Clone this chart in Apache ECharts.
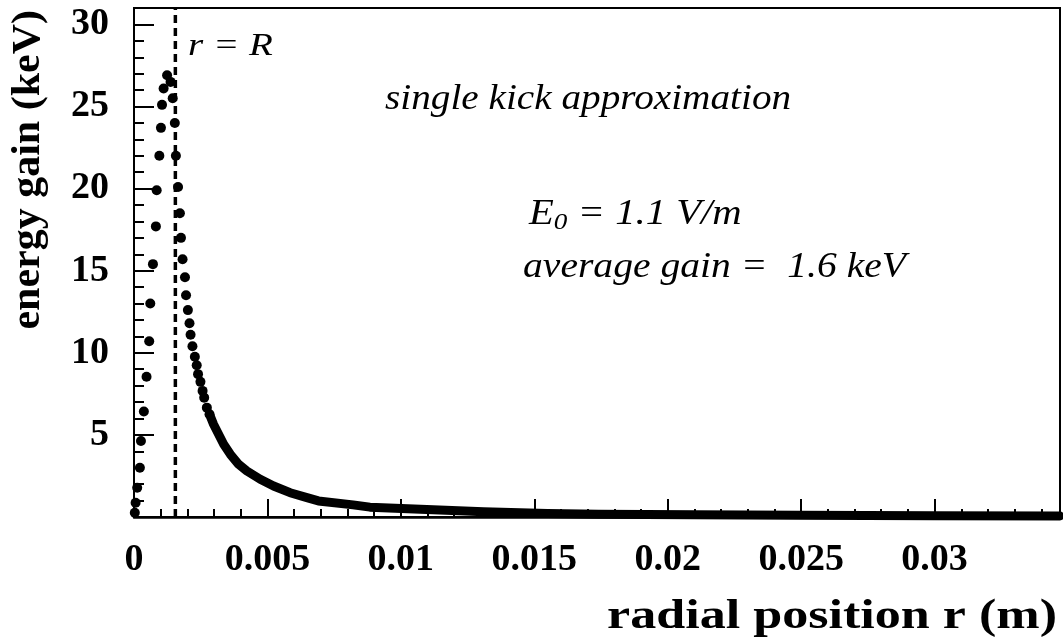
<!DOCTYPE html>
<html>
<head>
<meta charset="utf-8">
<script src="https://cdn.jsdelivr.net/npm/echarts@6/dist/echarts.min.js"></script>
<style>
  html, body { margin: 0; padding: 0; background: #fff; }
  #myChart { width: 1063px; height: 640px; }
</style>
</head>
<body>
<div id="myChart"></div>
<script>
// points inside r = R (rising branch)
var innerR = [0.00003, 0.00006, 0.00012, 0.00022, 0.00026, 0.00037, 0.00047, 0.00057, 0.00061,
  0.00071, 0.00082, 0.00085, 0.00095, 0.00101, 0.00105, 0.00111, 0.00124]
var innerGain = [0.26, 0.87, 1.78, 3.0, 4.63, 6.42, 8.54, 10.7, 13.0,
  15.4, 17.7, 19.9, 22.0, 23.7, 25.1, 26.1, 26.9]

// points just outside r = R (separate dots)
var outerR = [0.00137, 0.00145, 0.00153, 0.00157, 0.00165, 0.00172, 0.00176, 0.00182, 0.00191, 0.00195,
  0.00202, 0.00208, 0.00212, 0.00219, 0.00228, 0.00235, 0.0024, 0.00249, 0.00257, 0.00263, 0.00273, 0.00283]
var outerGain = [26.5, 25.5, 24.0, 22.0, 20.1, 18.5, 17.0, 15.7, 14.6, 13.5,
  12.6, 11.8, 11.1, 10.4, 9.76, 9.24, 8.70, 8.23, 7.68, 7.27, 6.66, 6.26]

// dense tail, dots merge into a band
var tailR = [0.00283, 0.00298, 0.00317, 0.00336, 0.00361, 0.00392, 0.00423, 0.00473, 0.00523, 0.00585,
  0.00648, 0.00691, 0.00821, 0.00884, 0.0105, 0.0131, 0.0155, 0.0174, 0.021, 0.0249, 0.03, 0.0347]
var tailGain = [6.26, 5.65, 5.04, 4.43, 3.82, 3.21, 2.80, 2.30, 1.89, 1.48,
  1.18, 0.98, 0.74, 0.6, 0.48, 0.32, 0.22, 0.17, 0.13, 0.1, 0.08, 0.06]

// r = R boundary (dashed line)
var rBoundary = 0.00155
var boundaryGain = [0, 31]

var xLabels = [0, 0.005, 0.01, 0.015, 0.02, 0.025, 0.03]
var yLabels = [5, 10, 15, 20, 25, 30]

function zip (a, b) {
  return a.map(function (v, i) { return [v, b[i]] })
}

var serifBold = { fontFamily: 'Liberation Serif', fontWeight: 'bold', color: '#000' }
var serifItalic = { fontFamily: 'Liberation Serif', fontStyle: 'italic', color: '#000' }
var tickFont = { fontSize: 38, fontFamily: 'Liberation Serif', fontWeight: 'bold', color: '#000' }

var myChart = echarts.init(document.getElementById('myChart'))

var option = {
  backgroundColor: '#fff',
  animation: false,
  grid: {
    left: 134,
    right: 2,
    top: 8,
    bottom: 123,
    show: true,
    borderColor: '#000',
    borderWidth: 2
  },
  xAxis: [
    {
      type: 'value',
      min: 0,
      max: 0.0347,
      interval: 0.005,
      axisLine: { onZero: false, lineStyle: { color: '#000', width: 2.5 } },
      axisTick: { inside: true, length: 18, lineStyle: { color: '#000', width: 2 } },
      splitLine: { show: false },
      axisLabel: Object.assign({
        margin: 24,
        formatter: function (v) {
          for (var i = 0; i < xLabels.length; i++) {
            if (Math.abs(xLabels[i] - v) < 1e-7) return String(xLabels[i])
          }
          return ''
        }
      }, tickFont)
    },
    {
      // minor ticks every 0.001
      type: 'value',
      min: 0,
      max: 0.0347,
      interval: 0.001,
      position: 'bottom',
      axisLine: { show: false },
      axisTick: { inside: true, length: 8, lineStyle: { color: '#000', width: 2 } },
      axisLabel: { show: false },
      splitLine: { show: false }
    }
  ],
  yAxis: [
    {
      type: 'value',
      min: 0,
      max: 31,
      interval: 5,
      axisLine: { show: true, onZero: false, lineStyle: { color: '#000', width: 2 } },
      axisTick: { show: true, inside: true, length: 20, lineStyle: { color: '#000', width: 2 } },
      splitLine: { show: false },
      axisLabel: Object.assign({
        margin: 25,
        formatter: function (v) {
          return yLabels.indexOf(v) >= 0 ? String(v) : ''
        }
      }, tickFont)
    },
    {
      // minor ticks every 1 keV
      type: 'value',
      min: 0,
      max: 31,
      interval: 1,
      position: 'left',
      axisLine: { show: false },
      axisTick: { show: true, inside: true, length: 10, lineStyle: { color: '#000', width: 2 } },
      axisLabel: { show: false },
      splitLine: { show: false }
    }
  ],
  series: [
    {
      name: 'boundary',
      type: 'line',
      symbol: 'none',
      lineStyle: { color: '#000', type: [8, 5], width: 3.5 },
      data: zip([rBoundary, rBoundary], boundaryGain)
    },
    {
      name: 'inner',
      type: 'scatter',
      symbolSize: 10,
      itemStyle: { color: '#000', opacity: 1 },
      data: zip(innerR, innerGain)
    },
    {
      name: 'outer',
      type: 'scatter',
      symbolSize: 10,
      itemStyle: { color: '#000', opacity: 1 },
      data: zip(outerR, outerGain)
    },
    {
      name: 'tail',
      type: 'line',
      symbol: 'none',
      lineStyle: { color: '#000', width: 9, cap: 'round', join: 'round' },
      data: zip(tailR, tailGain)
    }
  ],
  graphic: [
    {
      type: 'text', x: 29, y: 10, rotation: Math.PI / 2, scaleX: 1.05,
      style: Object.assign({ text: 'energy gain (keV)', fontSize: 40, align: 'right', verticalAlign: 'middle' }, serifBold)
    },
    {
      type: 'text', x: 1057, y: 617, scaleX: 1.24,
      style: Object.assign({ text: 'radial position r (m)', fontSize: 42, align: 'right', verticalAlign: 'middle' }, serifBold)
    },
    {
      type: 'text', x: 188, y: 47, scaleX: 1.22,
      style: Object.assign({ text: 'r = R', fontSize: 32, align: 'left', verticalAlign: 'middle' }, serifItalic)
    },
    {
      type: 'text', x: 385, y: 100, scaleX: 1.09,
      style: Object.assign({ text: 'single kick approximation', fontSize: 36, align: 'left', verticalAlign: 'middle' }, serifItalic)
    },
    {
      type: 'text', x: 529, y: 215, scaleX: 1.13,
      style: {
        text: '{i|E}{s|0}{i| = 1.1 V/m}',
        align: 'left',
        verticalAlign: 'middle',
        rich: {
          i: { fontFamily: 'Liberation Serif', fontStyle: 'italic', fontSize: 36, color: '#000', lineHeight: 40, verticalAlign: 'middle' },
          s: { fontFamily: 'Liberation Serif', fontStyle: 'italic', fontSize: 24, color: '#000', lineHeight: 24, verticalAlign: 'bottom' }
        }
      }
    },
    {
      type: 'text', x: 523, y: 268, scaleX: 1.1,
      style: Object.assign({ text: 'average gain =  1.6 keV', fontSize: 36, align: 'left', verticalAlign: 'middle' }, serifItalic)
    }
  ]
}

myChart.setOption(option)
</script>
</body>
</html>
